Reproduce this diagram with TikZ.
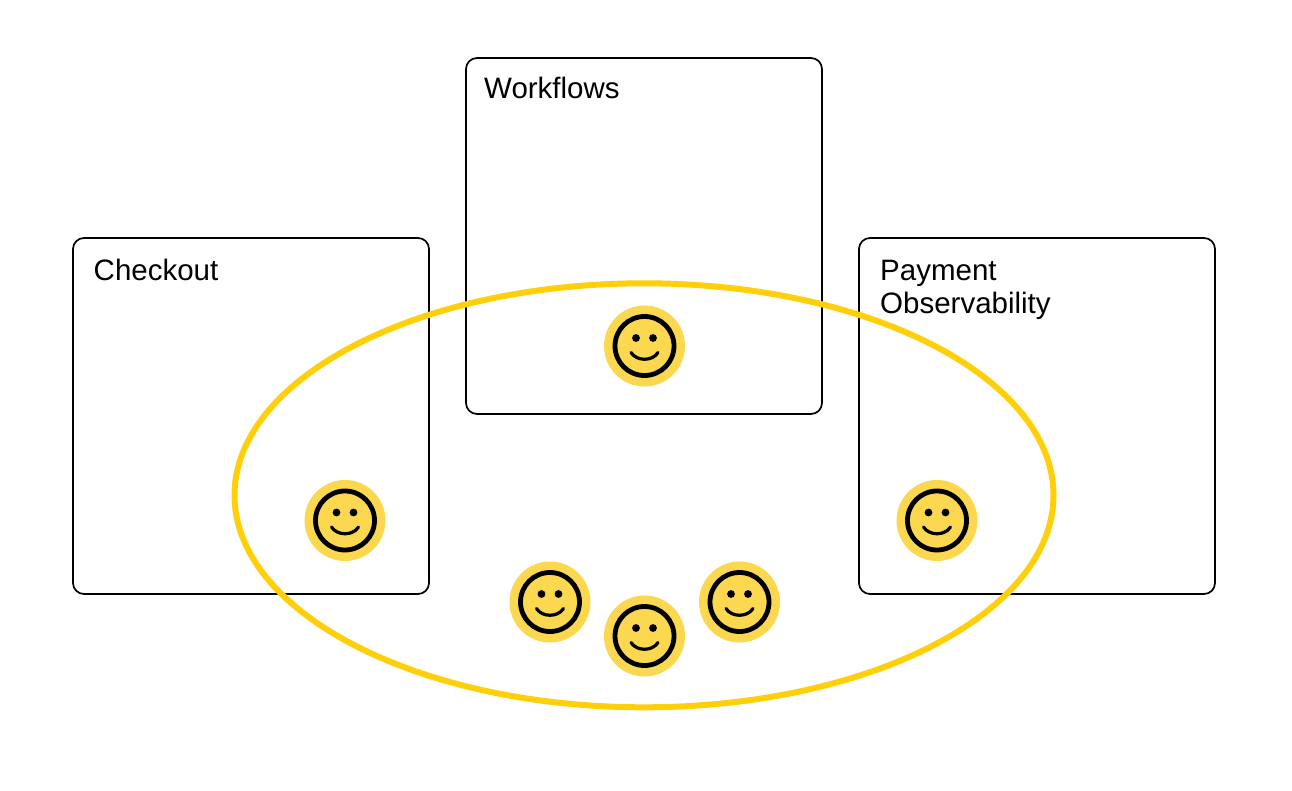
\documentclass[tikz,border=0pt]{standalone}
\usepackage{fontspec}
\setmainfont{Liberation Sans}
\usetikzlibrary{shapes.geometric}
\definecolor{ringy}{HTML}{FFCF0A}
\definecolor{facey}{HTML}{FBD84F}
\definecolor{ink}{HTML}{000000}
\tikzset{
  x=1pt,y=-1pt,
  panel/.style={draw=ink,line width=1.7pt,rounded corners=11pt,minimum width=356pt,minimum height=356pt,inner sep=0pt},
  lbl/.style={inner sep=0pt,anchor=base west,text=ink,font=\fontsize{29.5pt}{33pt}\selectfont},
  ring/.style={ellipse,draw=ringy,line width=6pt,minimum width=819pt,minimum height=424pt,inner sep=0pt},
  disc/.style={circle,fill=facey,minimum size=81pt,inner sep=0pt},
  smiley/.pic={
    \draw[ink,line width=4.8pt] (0,0) circle[radius=29.5];
    \fill[ink] (-8.5,-8) circle[radius=3.9] (8.5,-8) circle[radius=3.9];
    \draw[ink,line width=3.2pt,line cap=round] (-13.5,6.5) .. controls (-8,15.5) and (8,15.5) .. (13.5,6.5);
  }
}
\begin{document}
\begin{tikzpicture}
\useasboundingbox (0,0) rectangle (1292,791);
\fill[white] (0,0) rectangle (1292,791);
\node[panel] (checkout) at (251,416) {};
\node[panel] (workflows) at (644,236) {};
\node[panel] (payment) at (1037,416) {};
\node[lbl] (t1) at (484,99) {Workflows};
\node[lbl] (t2) at (93.5,281) {Checkout};
\node[lbl] (t3) at (880,281) {Payment};
\node[lbl] (t4) at (880,314) {Observability};
\node[ring] (group) at (644,495.3) {};
\foreach \n/\px/\py in {a/644.5/346,b/345/520.5,c/937/520.5,d/550/602,e/644.5/636,f/739.5/602}{
  \node[disc] (disc\n) at (\px,\py) {};
  \pic at (disc\n.center) {smiley};
}
\end{tikzpicture}
\end{document}
